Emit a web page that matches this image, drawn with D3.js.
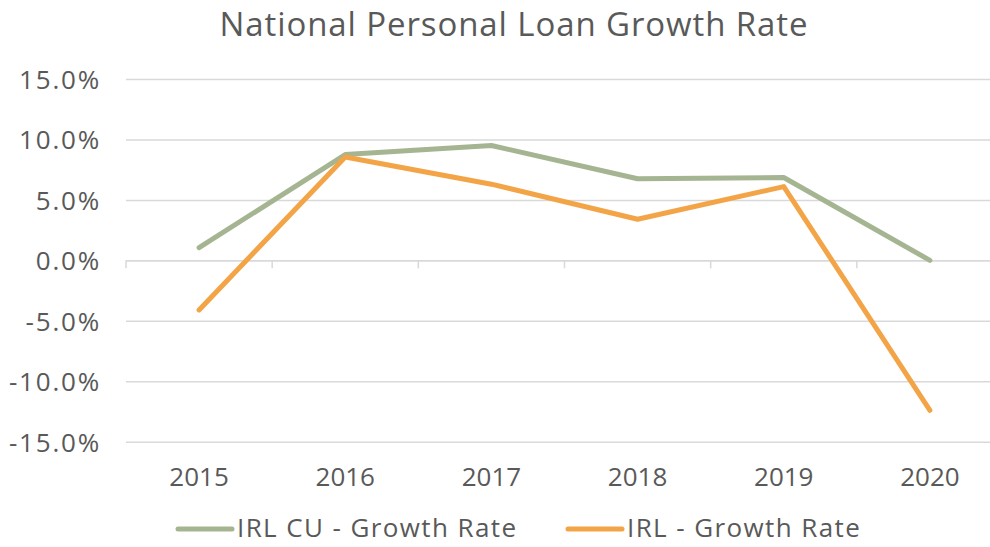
<!DOCTYPE html>
<html>
<head>
<meta charset="utf-8">
<script src="https://cdn.jsdelivr.net/npm/d3@7"></script>
<style>
  html, body { margin: 0; padding: 0; background: #ffffff; }
  svg { display: block; }
  text { font-family: "Open Sans", "DejaVu Sans", sans-serif; fill: #595959; }
</style>
</head>
<body>
<svg id="chart" width="990" height="547"></svg>
<script>
const titleText = "National Personal Loan Growth Rate";
const categories = ["2015", "2016", "2017", "2018", "2019", "2020"];
const seriesNames = ["IRL CU - Growth Rate", "IRL - Growth Rate"];
const irlCuGrowth = [0.0105, 0.0875, 0.0950, 0.0675, 0.0685, 0.0000];
const irlGrowth = [-0.0410, 0.0855, 0.0630, 0.0340, 0.0610, -0.1240];
const yTicks = [-0.15, -0.10, -0.05, 0.00, 0.05, 0.10, 0.15];
const seriesColors = ["#A5B592", "#F3A447"];

(function () {
const svg = d3.select("#chart");
const plotLeft = 126, plotRight = 1003, plotTop = 79, plotBottom = 441.7;

const x = d3.scaleBand().domain(categories).range([plotLeft, plotRight]).paddingInner(0).paddingOuter(0);
const y = d3.scaleLinear().domain([-0.15, 0.15]).range([plotBottom, plotTop]);

// title
svg.append("text")
  .attr("x", 514).attr("y", 36)
  .attr("text-anchor", "middle")
  .style("font-size", "33px")
  .style("letter-spacing", "0.9px")
  .text(titleText);

// gridlines + y labels
const pct = d3.format(".1%");
const yAxis = d3.axisLeft(y).tickValues(yTicks).tickSize(-(plotRight - plotLeft))
  .tickFormat(d => pct(d).replace("\u2212", "-")).tickPadding(25);
const gy = svg.append("g").attr("transform", `translate(${plotLeft},0)`).call(yAxis);
gy.select(".domain").remove();
gy.selectAll(".tick line").attr("stroke", "#d9d9d9").attr("stroke-width", 1.5);
gy.selectAll(".tick text")
  .style("font-size", "26px")
  .style("letter-spacing", "1.8px")
  .attr("font-family", null)
  .attr("fill", "#595959")
  .attr("dy", "0.36em");

// category axis at zero
const xAxis = d3.axisBottom(x).tickSize(0).tickFormat(() => "");
const gx = svg.append("g").attr("transform", `translate(0,${y(0)})`).call(xAxis);
gx.select(".domain").attr("stroke", "#d9d9d9").attr("stroke-width", 1.5);
gx.selectAll(".tick").remove();
const boundaries = categories.map(c => x(c)).concat([x(categories[categories.length - 1]) + x.bandwidth()]);
gx.selectAll("line.bt").data(boundaries).enter().append("line")
  .attr("class", "bt")
  .attr("x1", d => d).attr("x2", d => d)
  .attr("y1", 0).attr("y2", 8)
  .attr("stroke", "#d9d9d9").attr("stroke-width", 1.5);

// category labels at bottom
svg.append("g").selectAll("text").data(categories).enter().append("text")
  .attr("x", d => x(d) + x.bandwidth() / 2)
  .attr("y", 486)
  .attr("text-anchor", "middle")
  .style("font-size", "26px")
  .text(d => d);

// lines
const line = d3.line()
  .x((d, i) => x(categories[i]) + x.bandwidth() / 2)
  .y(d => y(d));
[irlCuGrowth, irlGrowth].forEach((s, i) => {
  svg.append("path")
    .datum(s)
    .attr("d", line)
    .attr("fill", "none")
    .attr("stroke", seriesColors[i])
    .attr("stroke-width", 5)
    .attr("stroke-linecap", "round")
    .attr("stroke-linejoin", "round");
});

// legend
const legendX = [178, 568];
const lg = svg.append("g");
seriesNames.forEach((n, i) => {
  lg.append("line")
    .attr("x1", legendX[i]).attr("x2", legendX[i] + 54)
    .attr("y1", 529).attr("y2", 529)
    .attr("stroke", seriesColors[i]).attr("stroke-width", 5)
    .attr("stroke-linecap", "round");
  lg.append("text")
    .attr("x", legendX[i] + 59).attr("y", 537)
    .style("font-size", "26px")
    .style("letter-spacing", "1.4px")
    .text(n);
});
})();
</script>
</body>
</html>
